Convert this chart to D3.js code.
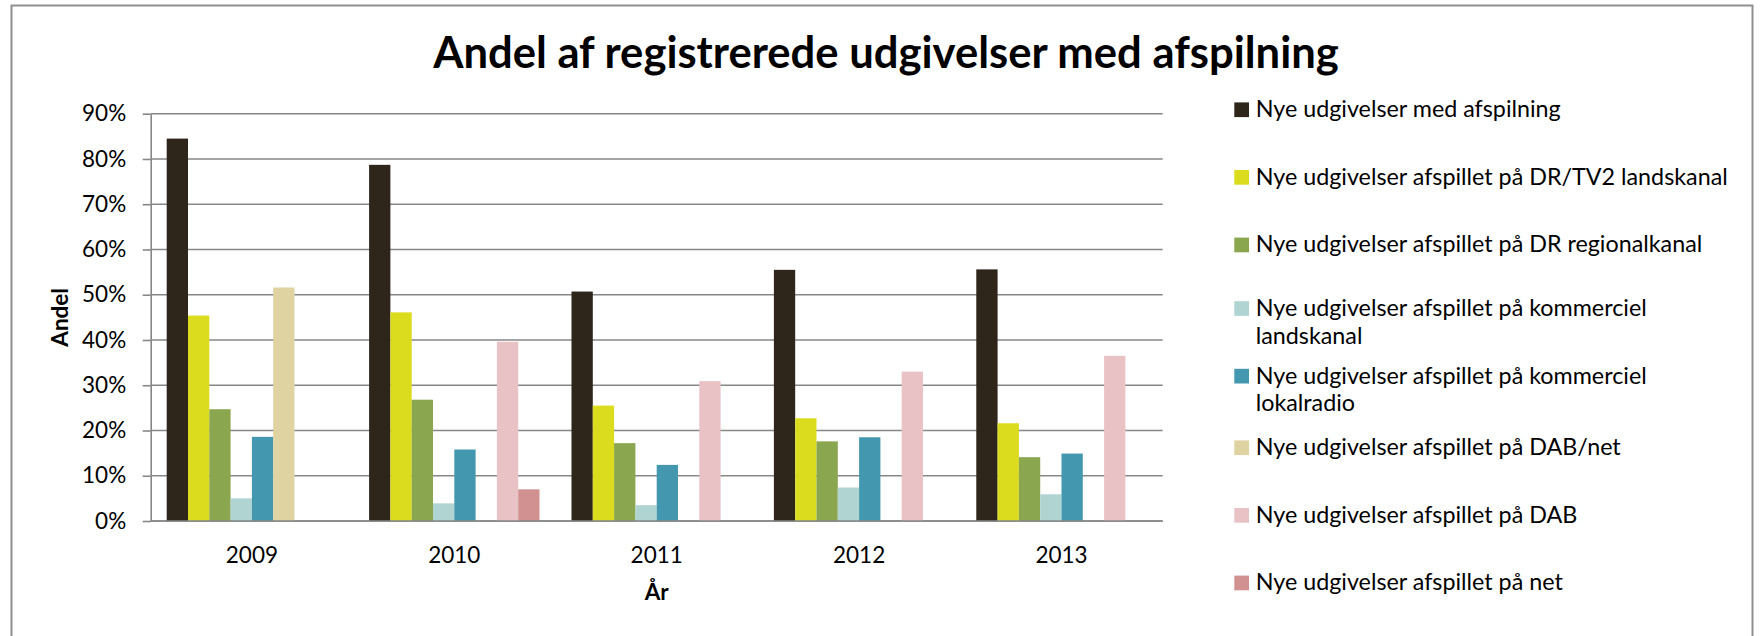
<!DOCTYPE html>
<html><head><meta charset="utf-8">
<script src="https://cdn.jsdelivr.net/npm/d3@7"></script>
<style>
body{margin:0;background:#fff}
svg{display:block}
text{font-family:Lato,"Open Sans",sans-serif;fill:#000}
</style>
</head><body>
<svg id="c" width="1764" height="636"></svg>
<script>
// ---- data (percent) ----
const years = ["2009", "2010", "2011", "2012", "2013"];
const seriesNames = [
  "Nye udgivelser med afspilning",
  "Nye udgivelser afspillet på DR/TV2 landskanal",
  "Nye udgivelser afspillet på DR regionalkanal",
  "Nye udgivelser afspillet på kommerciel landskanal",
  "Nye udgivelser afspillet på kommerciel lokalradio",
  "Nye udgivelser afspillet på DAB/net",
  "Nye udgivelser afspillet på DAB",
  "Nye udgivelser afspillet på net"
];
const medAfspilning   = [84.5, 78.7, 50.7, 55.5, 55.6];
const drTv2Lands      = [45.4, 46.1, 25.5, 22.7, 21.6];
const drRegional      = [24.7, 26.8, 17.2, 17.6, 14.1];
const kommercielLands = [5.0, 3.9, 3.5, 7.4, 5.9];
const kommercielLokal = [18.6, 15.8, 12.4, 18.5, 14.9];
const dabNet          = [51.6, null, null, null, null];
const dabOnly         = [null, 39.6, 30.9, 33.0, 36.5];
const netOnly         = [null, 7.0, null, null, null];
const yTicks = [0, 10, 20, 30, 40, 50, 60, 70, 80, 90];
const seriesColors = ["#2e261b", "#dcdc1f", "#8aa64e", "#b0d4d2", "#4398b0", "#dfd3a1", "#e9c2c5", "#d29191"];
const titleText = "Andel af registrerede udgivelser med afspilning";
const yTitle = "Andel";
const xTitle = "År";

const seriesValues = [medAfspilning, drTv2Lands, drRegional, kommercielLands, kommercielLokal, dabNet, dabOnly, netOnly];

// ---- layout ----
const svg = d3.select("#c");
const plot = {left: 150.7, right: 1162.7, top: 113.7, bottom: 521};
const gridColor = "#878787";

// border
svg.append("rect").attr("x", 11.5).attr("y", 5.5).attr("width", 1741).attr("height", 700)
  .attr("fill", "none").attr("stroke", "#8f8f8f").attr("stroke-width", 2);

const x0 = d3.scaleBand().domain(years).range([plot.left, plot.right])
  .paddingInner(0.158).paddingOuter(0.079);
const x1 = d3.scaleBand().domain(d3.range(seriesNames.length)).range([0, x0.bandwidth()]);
const y = d3.scaleLinear().domain([0, 90]).range([plot.bottom, plot.top]);

// gridlines
svg.append("g").selectAll("line").data(yTicks).join("line")
  .attr("x1", plot.left).attr("x2", plot.right)
  .attr("y1", d => y(d)).attr("y2", d => y(d))
  .attr("stroke", gridColor).attr("stroke-width", 1.6);

// y axis
const fs = 22.5;
const legFs = 23.3;
const yAxis = svg.append("g").attr("transform", `translate(${plot.left},0)`)
  .call(d3.axisLeft(y).tickValues(yTicks).tickFormat(d => d + "%").tickSizeInner(8).tickSizeOuter(0).tickPadding(16.5));
yAxis.select(".domain").attr("stroke", gridColor).attr("stroke-width", 1.6);
yAxis.selectAll(".tick line").attr("stroke", gridColor).attr("stroke-width", 1.6);
yAxis.selectAll(".tick text").attr("font-size", fs).attr("font-family", "Lato").attr("fill", "#000");

// bars
const groups = svg.append("g").selectAll("g").data(years).join("g")
  .attr("transform", d => `translate(${x0(d)},0)`);
groups.selectAll("rect")
  .data((yr, i) => seriesValues.map((vals, s) => ({s, v: vals[i]})).filter(d => d.v != null))
  .join("rect")
  .attr("x", d => x1(d.s)).attr("width", x1.bandwidth())
  .attr("y", d => y(d.v)).attr("height", d => y(0) - y(d.v))
  .attr("fill", d => seriesColors[d.s]);

// x axis line on top of bars
svg.append("line").attr("x1", plot.left).attr("x2", plot.right)
  .attr("y1", y(0)).attr("y2", y(0)).attr("stroke", gridColor).attr("stroke-width", 1.6);

// x labels
const xAxis = svg.append("g").attr("transform", `translate(0,${plot.bottom})`)
  .call(d3.axisBottom(x0).tickSize(0).tickPadding(0));
xAxis.select(".domain").remove();
xAxis.selectAll(".tick text").attr("font-size", fs).attr("font-family", "Lato").attr("fill", "#000")
  .attr("dy", null).attr("y", 41.7);

// axis titles
svg.append("text").attr("transform", "translate(68,317.4) rotate(-90)")
  .attr("text-anchor", "middle").attr("font-weight", "bold").attr("font-size", fs).text(yTitle);
svg.append("text").attr("x", (plot.left + plot.right) / 2).attr("y", 600)
  .attr("text-anchor", "middle").attr("font-weight", "bold").attr("font-size", fs).text(xTitle);

// title
const title = svg.append("text").attr("x", 886).attr("y", 68).attr("text-anchor", "middle")
  .attr("font-weight", "bold").attr("font-size", 40).text(titleText);
const tw = title.node().getComputedTextLength();
title.attr("font-size", 40 * 906 / tw);

// legend
const leg = svg.append("g");
const legTop = 109.7, legStep = 67.6, lineH = 27.5, wrapW = 485;
seriesNames.forEach((name, i) => {
  const t = leg.append("text").attr("x", 1255.7).attr("font-size", legFs);
  const words = name.split(" ");
  let lines = [], cur = "";
  const probe = leg.append("text").attr("font-size", legFs);
  words.forEach(w => {
    const test = cur ? cur + " " + w : w;
    probe.text(test);
    if (probe.node().getComputedTextLength() > wrapW && cur) { lines.push(cur); cur = w; }
    else cur = test;
  });
  lines.push(cur);
  probe.remove();
  const cy = legTop + i * legStep - (lines.length > 1 ? 4 : 0);
  lines.forEach((ln, k) => {
    t.append("tspan").attr("x", 1255.7).attr("y", cy + 7.5 + k * lineH).text(ln);
  });
  leg.append("rect").attr("x", 1234.3).attr("y", cy - 7.3).attr("width", 14.7).attr("height", 14.7)
    .attr("fill", seriesColors[i]);
});
</script>
</body></html>
